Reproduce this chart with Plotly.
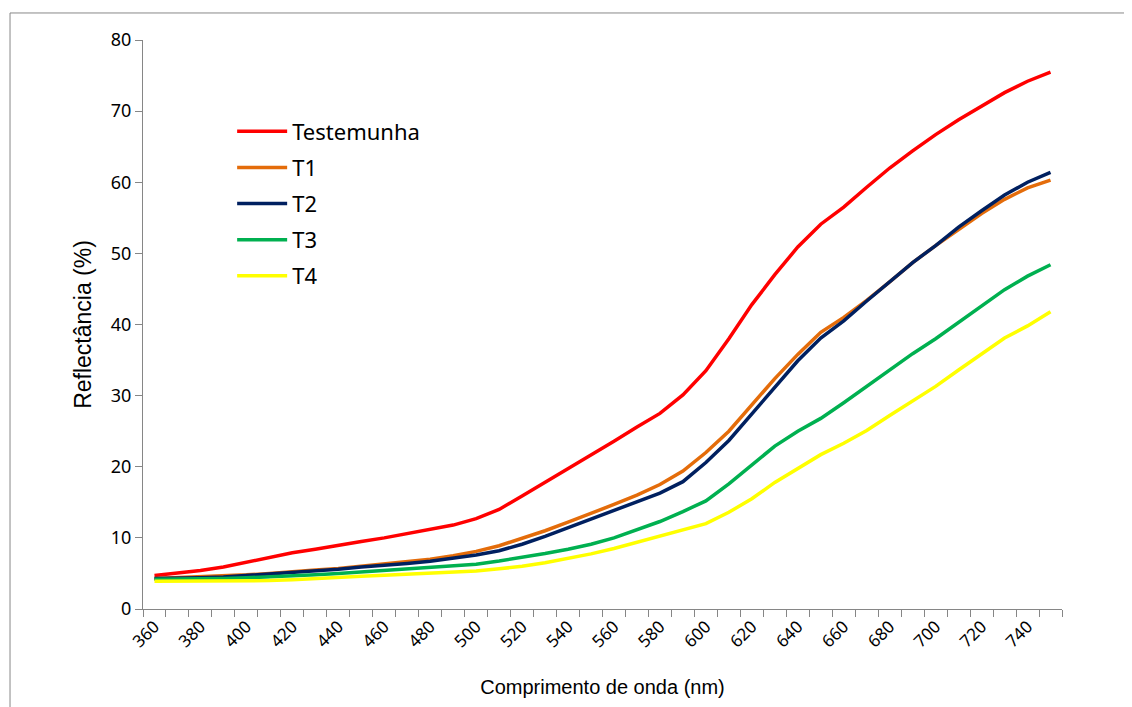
import plotly.graph_objects as go

wavelengths = list(range(360, 751, 10))

testemunha = [4.7, 5.0, 5.4, 5.9, 6.6, 7.3, 7.9, 8.4, 9.0, 9.5,
              10.0, 10.6, 11.1, 11.8, 12.7, 14.0, 15.9, 17.8, 19.8, 21.7,
              23.6, 25.6, 27.5, 30.1, 33.5, 38.0, 42.8, 47.0, 50.9, 54.1,
              56.5, 59.3, 62.0, 64.4, 66.7, 68.8, 70.7, 72.6, 74.2, 75.5]
t1 = [4.3, 4.4, 4.5, 4.6, 4.8, 5.0, 5.3, 5.5, 5.7, 6.0,
      6.3, 6.6, 7.0, 7.5, 8.1, 8.9, 9.9, 11.0, 12.2, 13.4,
      14.7, 16.0, 17.5, 19.4, 22.0, 25.0, 28.7, 32.4, 35.8, 38.9,
      41.0, 43.4, 46.0, 48.7, 51.1, 53.4, 55.6, 57.6, 59.2, 60.3]
t2 = [4.3, 4.3, 4.4, 4.5, 4.7, 4.9, 5.1, 5.4, 5.6, 5.9,
      6.1, 6.4, 6.7, 7.1, 7.6, 8.2, 9.1, 10.2, 11.4, 12.6,
      13.8, 15.0, 16.3, 17.9, 20.6, 23.7, 27.4, 31.2, 34.9, 38.1,
      40.5, 43.3, 46.0, 48.7, 51.1, 53.7, 56.0, 58.2, 60.0, 61.4]
t3 = [4.2, 4.2, 4.3, 4.3, 4.4, 4.5, 4.7, 4.8, 5.0, 5.2,
      5.4, 5.6, 5.8, 6.0, 6.3, 6.75, 7.25, 7.8, 8.4, 9.1,
      10.0, 11.1, 12.3, 13.7, 15.2, 17.6, 20.3, 22.9, 25.0, 26.8,
      29.0, 31.3, 33.6, 35.9, 38.0, 40.3, 42.7, 44.9, 46.8, 48.4]
t4 = [3.9, 3.9, 3.9, 3.9, 3.95, 4.0, 4.1, 4.3, 4.45, 4.6,
      4.75, 4.9, 5.05, 5.2, 5.35, 5.65, 6.0, 6.5, 7.1, 7.75,
      8.5, 9.35, 10.2, 11.15, 12.0, 13.6, 15.5, 17.8, 19.8, 21.7,
      23.3, 25.1, 27.2, 29.3, 31.3, 33.6, 35.8, 38.1, 39.8, 41.8]

series_names = ["Testemunha", "T1", "T2", "T3", "T4"]
series_values = [testemunha, t1, t2, t3, t4]
series_colors = ["#FF0000", "#E46C0A", "#002060", "#00B050", "#FFFF00"]

x_tick_vals = list(range(360, 741, 20))
x_tick_text = [str(v) for v in x_tick_vals]
y_tick_vals = list(range(0, 81, 10))

fig = go.Figure()
for i, (name, vals, col) in enumerate(zip(series_names, series_values, series_colors)):
    fig.add_trace(go.Scatter(
        x=wavelengths, y=vals, mode="lines", name=name,
        line=dict(color=col, width=3.5),
        legendgroup=f"g{i}",
    ))

axis_col = "#868686"
fig.update_layout(
    width=1124, height=699,
    margin=dict(l=135, r=70, t=32, b=98),
    paper_bgcolor="white", plot_bgcolor="white",
    showlegend=True,
    legend=dict(
        x=0.097, y=0.876, xanchor="left", yanchor="top",
        font=dict(family="Noto Sans", size=22, color="#000000"),
        tracegroupgap=4.5, itemwidth=50,
        bgcolor="rgba(0,0,0,0)",
    ),
    xaxis=dict(
        range=[355, 755], showgrid=False, zeroline=False,
        showline=True, linecolor=axis_col, linewidth=1,
        tickmode="array", tickvals=x_tick_vals, ticktext=x_tick_text,
        ticks="", tickangle=-45,
        tickfont=dict(family="Noto Sans", size=17, color="#000000"),
        minor=dict(ticks="outside", ticklen=7, tickcolor=axis_col,
                   tick0=355, dtick=10, showgrid=False),
        title=dict(text="Comprimento de onda (nm)",
                   font=dict(family="Liberation Sans", size=20, color="#000000"),
                   standoff=28),
    ),
    yaxis=dict(
        range=[0, 80], showgrid=False, zeroline=False,
        showline=True, linecolor=axis_col, linewidth=1,
        tickmode="array", tickvals=y_tick_vals,
        ticks="outside", ticklen=7, tickcolor=axis_col,
        tickfont=dict(family="Noto Sans", size=18, color="#000000"),
        title=dict(text="Reflectância (%)",
                   font=dict(family="Liberation Sans", size=23, color="#000000"),
                   standoff=12),
    ),
)

fig.add_shape(type="rect", xref="paper", yref="paper",
              x0=-0.1447, x1=1.09, y0=-0.2, y1=1.0475,
              line=dict(color="#888888", width=1), layer="below")

fig.write_html("out.html")
